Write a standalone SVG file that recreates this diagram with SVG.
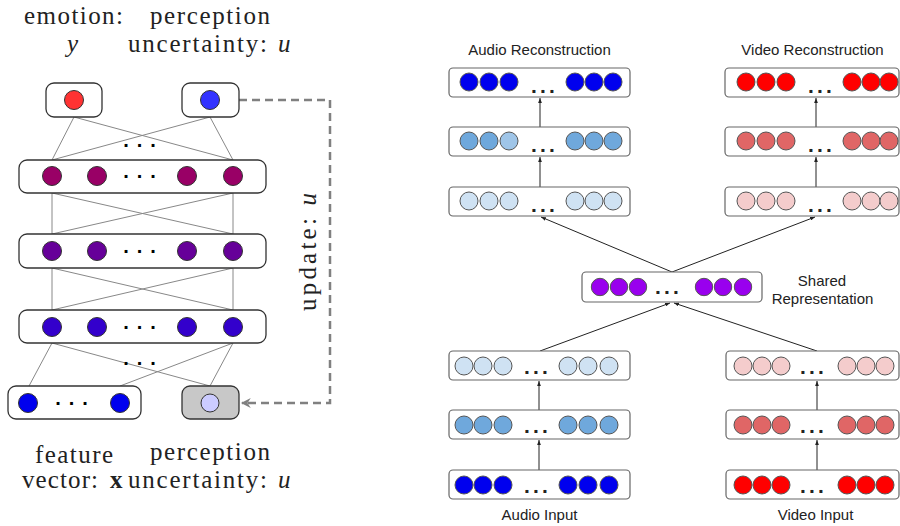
<svg xmlns="http://www.w3.org/2000/svg" width="900" height="526" viewBox="0 0 900 526">
  <defs>
    <style>
      .serif { font-family: "Liberation Serif", "Times New Roman", serif; font-size: 25px; fill: #222; }
      .it { font-style: italic; }
      .sans { font-family: "Liberation Sans", Arial, sans-serif; font-size: 15px; fill: #222; }
      .lbox { fill: #fff; stroke: #333; stroke-width: 1.3; }
      .rbox { fill: #fff; stroke: #666; stroke-width: 1.2; }
      .node { stroke: #333; stroke-width: 1; }
      .rn { stroke: #555; stroke-width: 1; }
      .link { stroke: #888; stroke-width: 1; fill: none; }
      .arr { stroke: #222; stroke-width: 1; fill: none; marker-end: url(#head); }
      .dotsL { font-family: "Liberation Sans", Arial, sans-serif; font-size: 20px; font-weight: bold; letter-spacing: 8px; fill: #000; }
      .dotsR { font-family: "Liberation Sans", Arial, sans-serif; font-size: 21px; font-weight: bold; letter-spacing: 3.2px; fill: #222; }
      .dash { stroke: #808080; stroke-width: 2.5; fill: none; stroke-dasharray: 8 5; marker-end: url(#chev); }
    </style>
    <marker id="head" viewBox="0 0 8 6" refX="8" refY="3" markerWidth="5" markerHeight="4" orient="auto" markerUnits="userSpaceOnUse">
      <path d="M0,0 L8,3 L0,6 z" fill="#222"/>
    </marker>
    <marker id="chev" viewBox="0 0 10 10" refX="8" refY="5" markerWidth="11" markerHeight="11" orient="auto" markerUnits="userSpaceOnUse">
      <path d="M0,0.5 L9,5 L0,9.5 L3,5 z" fill="#808080"/>
    </marker>
  </defs>
  <rect width="900" height="526" fill="#fff"/>

  <!-- ========== Left: emotion / perception uncertainty network ========== -->
  <g id="left-labels">
    <text class="serif" x="24" y="24" textLength="99" lengthAdjust="spacing">emotion:</text>
    <text class="serif" x="150" y="24" textLength="120" lengthAdjust="spacing">perception</text>
    <text class="serif it" x="67" y="52">y</text>
    <text class="serif" x="128" y="52" textLength="139" lengthAdjust="spacing">uncertainty:</text>
    <text class="serif it" x="278" y="52">u</text>
    <text class="serif" x="35" y="463" textLength="78" lengthAdjust="spacing">feature</text>
    <text class="serif" x="150" y="460" textLength="120" lengthAdjust="spacing">perception</text>
    <text class="serif" x="22" y="488" textLength="76" lengthAdjust="spacing">vector:</text>
    <text class="serif" x="110" y="488" font-weight="bold">x</text>
    <text class="serif" x="128" y="488" textLength="139" lengthAdjust="spacing">uncertainty:</text>
    <text class="serif it" x="278" y="488">u</text>
    <text class="serif" transform="translate(316,252) rotate(-90)" text-anchor="middle" textLength="118" lengthAdjust="spacing">update: <tspan class="it">u</tspan></text>
  </g>

  <g id="left-connectors">
    <!-- outputs to first hidden layer -->
    <path class="link" d="M74,117 L52,160 M74,117 L233,160 M210,117 L52,160 M210,117 L233,160"/>
    <!-- hidden 1 to hidden 2 -->
    <path class="link" d="M52,193 L52,234 M52,193 L233,234 M233,193 L52,234 M233,193 L233,234"/>
    <!-- hidden 2 to hidden 3 -->
    <path class="link" d="M52,268 L52,310 M52,268 L233,310 M233,268 L52,310 M233,268 L233,310"/>
    <!-- hidden 3 to inputs -->
    <path class="link" d="M52,343 L29,386 M52,343 L210,386 M233,343 L120,386 M233,343 L210,386"/>
    <text class="dotsL" x="123.2" y="146.5">...</text>
    <text class="dotsL" x="123.2" y="364.5">...</text>
    <!-- feedback of the uncertainty estimate -->
    <path class="dash" d="M239,100 H330 V403 H242"/>
  </g>

  <g id="out-emotion">
    <rect class="lbox" x="46" y="83" width="56" height="34" rx="8"/>
    <circle class="node" cx="74" cy="100" r="9.5" fill="#ff3333"/>
  </g>
  <g id="out-uncertainty">
    <rect class="lbox" x="182" y="83" width="57" height="34" rx="8"/>
    <circle class="node" cx="210" cy="100" r="9.5" fill="#3333ff"/>
  </g>

  <g id="hidden-1">
    <rect class="lbox" x="19" y="160" width="247" height="33" rx="8"/>
    <circle class="node" cx="52" cy="176" r="9.5" fill="#990066"/>
    <circle class="node" cx="97" cy="176" r="9.5" fill="#990066"/>
    <circle class="node" cx="187" cy="176" r="9.5" fill="#990066"/>
    <circle class="node" cx="233" cy="176" r="9.5" fill="#990066"/>
    <text class="dotsL" x="123.2" y="177.5">...</text>
  </g>
  <g id="hidden-2">
    <rect class="lbox" x="19" y="234" width="247" height="34" rx="8"/>
    <circle class="node" cx="52" cy="251" r="9.5" fill="#660099"/>
    <circle class="node" cx="97" cy="251" r="9.5" fill="#660099"/>
    <circle class="node" cx="187" cy="251" r="9.5" fill="#660099"/>
    <circle class="node" cx="233" cy="251" r="9.5" fill="#660099"/>
    <text class="dotsL" x="123.2" y="252.5">...</text>
  </g>
  <g id="hidden-3">
    <rect class="lbox" x="19" y="310" width="247" height="33" rx="8"/>
    <circle class="node" cx="52" cy="327" r="9.5" fill="#3300cc"/>
    <circle class="node" cx="97" cy="327" r="9.5" fill="#3300cc"/>
    <circle class="node" cx="187" cy="327" r="9.5" fill="#3300cc"/>
    <circle class="node" cx="233" cy="327" r="9.5" fill="#3300cc"/>
    <text class="dotsL" x="123.2" y="328.5">...</text>
  </g>

  <g id="in-features">
    <rect class="lbox" x="8" y="386" width="133" height="33" rx="8"/>
    <circle class="node" cx="28" cy="403" r="9.5" fill="#0000ee"/>
    <circle class="node" cx="120" cy="403" r="9.5" fill="#0000ee"/>
    <text class="dotsL" x="55.2" y="404.5">...</text>
  </g>
  <g id="in-uncertainty">
    <rect class="lbox" x="182" y="386" width="57" height="33" rx="8" style="fill:#c8c8c8"/>
    <circle class="node" cx="210" cy="403" r="9" fill="#ccccff"/>
  </g>

  <!-- ========== Right: bimodal autoencoder ========== -->
  <g id="right-connectors">
    <path class="arr" d="M540,187 V157"/>
    <path class="arr" d="M540,127 V98"/>
    <path class="arr" d="M816,187 V157"/>
    <path class="arr" d="M816,127 V98"/>
    <path class="arr" d="M672,272 L541,217"/>
    <path class="arr" d="M672,272 L815,217"/>
    <path class="arr" d="M540,351 L670,303"/>
    <path class="arr" d="M817,351 L674,303"/>
    <path class="arr" d="M539,470 V440"/>
    <path class="arr" d="M539,410 V381"/>
    <path class="arr" d="M817,470 V440"/>
    <path class="arr" d="M817,410 V381"/>
  </g>

  <g id="audio-recon-label"><text class="sans" x="539.5" y="55" text-anchor="middle">Audio Reconstruction</text></g>
  <g id="video-recon-label"><text class="sans" x="812.5" y="55" text-anchor="middle">Video Reconstruction</text></g>

  <g id="audio-out">
    <rect class="rbox" x="449" y="68" width="181" height="29" rx="4"/>
    <circle class="rn" cx="469" cy="82" r="9" fill="#0000ee"/>
    <circle class="rn" cx="489" cy="82" r="9" fill="#0000ee"/>
    <circle class="rn" cx="509" cy="82" r="9" fill="#0000ee"/>
    <circle class="rn" cx="575" cy="82" r="9" fill="#0000ee"/>
    <circle class="rn" cx="594" cy="82" r="9" fill="#0000ee"/>
    <circle class="rn" cx="613" cy="82" r="9" fill="#0000ee"/>
    <text class="dotsR" x="531" y="92.5">...</text>
  </g>
  <g id="audio-dec">
    <rect class="rbox" x="449" y="127" width="181" height="29" rx="4"/>
    <circle class="rn" cx="469" cy="141" r="9" fill="#6fa8dc"/>
    <circle class="rn" cx="489" cy="141" r="9" fill="#6fa8dc"/>
    <circle class="rn" cx="509" cy="141" r="9" fill="#9fc5e8"/>
    <circle class="rn" cx="575" cy="141" r="9" fill="#6fa8dc"/>
    <circle class="rn" cx="594" cy="141" r="9" fill="#6fa8dc"/>
    <circle class="rn" cx="613" cy="141" r="9" fill="#6fa8dc"/>
    <text class="dotsR" x="531" y="151.5">...</text>
  </g>
  <g id="audio-dec-top">
    <rect class="rbox" x="449" y="187" width="181" height="29" rx="4"/>
    <circle class="rn" cx="469" cy="201" r="9" fill="#cfe2f3"/>
    <circle class="rn" cx="489" cy="201" r="9" fill="#cfe2f3"/>
    <circle class="rn" cx="509" cy="201" r="9" fill="#cfe2f3"/>
    <circle class="rn" cx="575" cy="201" r="9" fill="#cfe2f3"/>
    <circle class="rn" cx="594" cy="201" r="9" fill="#cfe2f3"/>
    <circle class="rn" cx="613" cy="201" r="9" fill="#cfe2f3"/>
    <text class="dotsR" x="531" y="211.5">...</text>
  </g>

  <g id="video-out">
    <rect class="rbox" x="725" y="68" width="174" height="29" rx="4"/>
    <circle class="rn" cx="746" cy="82" r="9" fill="#ff0000"/>
    <circle class="rn" cx="766" cy="82" r="9" fill="#ff0000"/>
    <circle class="rn" cx="786" cy="82" r="9" fill="#ff0000"/>
    <circle class="rn" cx="852" cy="82" r="9" fill="#ff0000"/>
    <circle class="rn" cx="871" cy="82" r="9" fill="#ff0000"/>
    <circle class="rn" cx="889" cy="82" r="9" fill="#ff0000"/>
    <text class="dotsR" x="808" y="92.5">...</text>
  </g>
  <g id="video-dec">
    <rect class="rbox" x="725" y="127" width="174" height="29" rx="4"/>
    <circle class="rn" cx="746" cy="141" r="9" fill="#e06666"/>
    <circle class="rn" cx="766" cy="141" r="9" fill="#e06666"/>
    <circle class="rn" cx="786" cy="141" r="9" fill="#e06666"/>
    <circle class="rn" cx="852" cy="141" r="9" fill="#e06666"/>
    <circle class="rn" cx="871" cy="141" r="9" fill="#e06666"/>
    <circle class="rn" cx="889" cy="141" r="9" fill="#e06666"/>
    <text class="dotsR" x="808" y="151.5">...</text>
  </g>
  <g id="video-dec-top">
    <rect class="rbox" x="725" y="187" width="174" height="29" rx="4"/>
    <circle class="rn" cx="746" cy="201" r="9" fill="#f4cccc"/>
    <circle class="rn" cx="766" cy="201" r="9" fill="#f4cccc"/>
    <circle class="rn" cx="786" cy="201" r="9" fill="#f4cccc"/>
    <circle class="rn" cx="852" cy="201" r="9" fill="#f4cccc"/>
    <circle class="rn" cx="871" cy="201" r="9" fill="#f4cccc"/>
    <circle class="rn" cx="889" cy="201" r="9" fill="#f4cccc"/>
    <text class="dotsR" x="808" y="211.5">...</text>
  </g>

  <g id="shared">
    <rect class="rbox" x="582" y="272" width="180" height="30" rx="4"/>
    <circle class="rn" cx="600" cy="287" r="8.7" fill="#9900ee"/>
    <circle class="rn" cx="619" cy="287" r="8.7" fill="#9900ee"/>
    <circle class="rn" cx="638" cy="287" r="8.7" fill="#9900ee"/>
    <circle class="rn" cx="704" cy="287" r="8.7" fill="#9900ee"/>
    <circle class="rn" cx="723" cy="287" r="8.7" fill="#9900ee"/>
    <circle class="rn" cx="743" cy="287" r="8.7" fill="#9900ee"/>
    <text class="dotsR" x="655" y="294">...</text>
  </g>
  <g id="shared-label">
    <text class="sans" x="822" y="286" text-anchor="middle">Shared</text>
    <text class="sans" x="822.5" y="304" text-anchor="middle">Representation</text>
  </g>

  <g id="audio-enc-top">
    <rect class="rbox" x="449" y="351" width="181" height="29" rx="4"/>
    <circle class="rn" cx="464" cy="366" r="9" fill="#cfe2f3"/>
    <circle class="rn" cx="483" cy="366" r="9" fill="#cfe2f3"/>
    <circle class="rn" cx="503" cy="366" r="9" fill="#cfe2f3"/>
    <circle class="rn" cx="568" cy="366" r="9" fill="#cfe2f3"/>
    <circle class="rn" cx="588" cy="366" r="9" fill="#cfe2f3"/>
    <circle class="rn" cx="609" cy="366" r="9" fill="#cfe2f3"/>
    <text class="dotsR" x="524" y="373.5">...</text>
  </g>
  <g id="audio-enc">
    <rect class="rbox" x="449" y="410" width="181" height="29" rx="4"/>
    <circle class="rn" cx="464" cy="425" r="9" fill="#6fa8dc"/>
    <circle class="rn" cx="483" cy="425" r="9" fill="#6fa8dc"/>
    <circle class="rn" cx="503" cy="425" r="9" fill="#6fa8dc"/>
    <circle class="rn" cx="568" cy="425" r="9" fill="#6fa8dc"/>
    <circle class="rn" cx="588" cy="425" r="9" fill="#6fa8dc"/>
    <circle class="rn" cx="609" cy="425" r="9" fill="#6fa8dc"/>
    <text class="dotsR" x="524" y="432.5">...</text>
  </g>
  <g id="audio-in">
    <rect class="rbox" x="449" y="470" width="181" height="29" rx="4"/>
    <circle class="rn" cx="464" cy="485" r="9" fill="#0000ee"/>
    <circle class="rn" cx="483" cy="485" r="9" fill="#0000ee"/>
    <circle class="rn" cx="503" cy="485" r="9" fill="#0000ee"/>
    <circle class="rn" cx="568" cy="485" r="9" fill="#0000ee"/>
    <circle class="rn" cx="588" cy="485" r="9" fill="#0000ee"/>
    <circle class="rn" cx="609" cy="485" r="9" fill="#0000ee"/>
    <text class="dotsR" x="524" y="492.5">...</text>
  </g>
  <g id="audio-in-label"><text class="sans" x="539.5" y="520" text-anchor="middle">Audio Input</text></g>

  <g id="video-enc-top">
    <rect class="rbox" x="726" y="351" width="173" height="29" rx="4"/>
    <circle class="rn" cx="743" cy="366" r="9" fill="#f4cccc"/>
    <circle class="rn" cx="762" cy="366" r="9" fill="#f4cccc"/>
    <circle class="rn" cx="781" cy="366" r="9" fill="#f4cccc"/>
    <circle class="rn" cx="847" cy="366" r="9" fill="#f4cccc"/>
    <circle class="rn" cx="866" cy="366" r="9" fill="#f4cccc"/>
    <circle class="rn" cx="885" cy="366" r="9" fill="#f4cccc"/>
    <text class="dotsR" x="800" y="373.5">...</text>
  </g>
  <g id="video-enc">
    <rect class="rbox" x="726" y="410" width="173" height="29" rx="4"/>
    <circle class="rn" cx="743" cy="425" r="9" fill="#e06666"/>
    <circle class="rn" cx="762" cy="425" r="9" fill="#e06666"/>
    <circle class="rn" cx="781" cy="425" r="9" fill="#e06666"/>
    <circle class="rn" cx="847" cy="425" r="9" fill="#e06666"/>
    <circle class="rn" cx="866" cy="425" r="9" fill="#e06666"/>
    <circle class="rn" cx="885" cy="425" r="9" fill="#e06666"/>
    <text class="dotsR" x="800" y="432.5">...</text>
  </g>
  <g id="video-in">
    <rect class="rbox" x="726" y="470" width="173" height="29" rx="4"/>
    <circle class="rn" cx="743" cy="485" r="9" fill="#ff0000"/>
    <circle class="rn" cx="762" cy="485" r="9" fill="#ff0000"/>
    <circle class="rn" cx="781" cy="485" r="9" fill="#ff0000"/>
    <circle class="rn" cx="847" cy="485" r="9" fill="#ff0000"/>
    <circle class="rn" cx="866" cy="485" r="9" fill="#ff0000"/>
    <circle class="rn" cx="885" cy="485" r="9" fill="#ff0000"/>
    <text class="dotsR" x="800" y="492.5">...</text>
  </g>
  <g id="video-in-label"><text class="sans" x="815.5" y="520" text-anchor="middle">Video Input</text></g>
</svg>
